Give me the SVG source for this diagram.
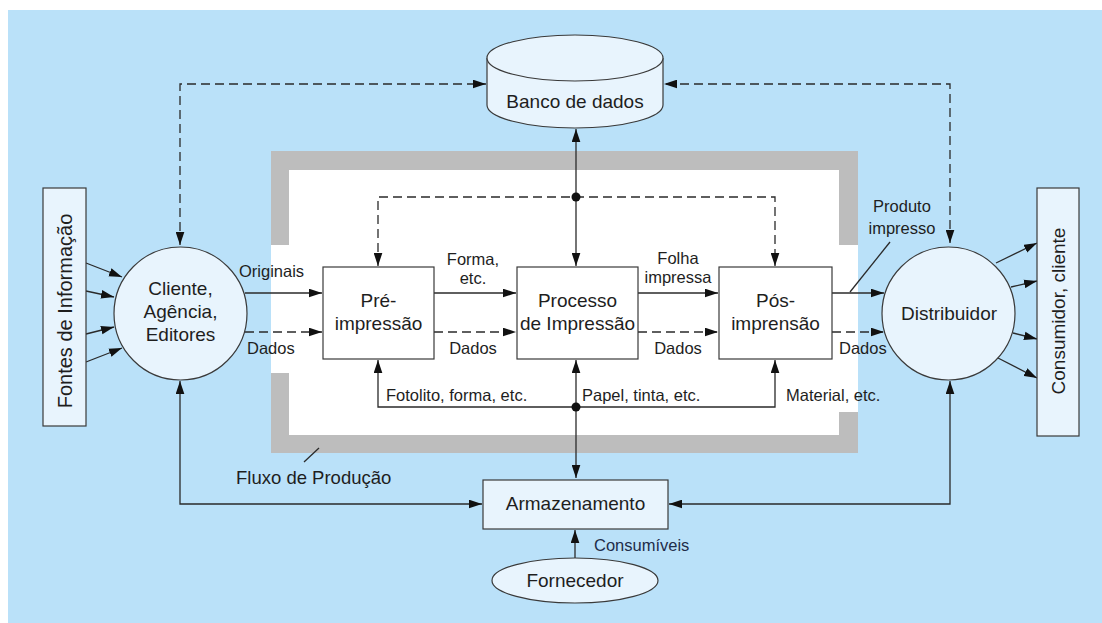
<svg xmlns="http://www.w3.org/2000/svg" width="1102" height="623" viewBox="0 0 1102 623">
<style>
text{font-family:"Liberation Sans",Arial,sans-serif;fill:#1e1e1e}
.node{fill:#e8f4fd;stroke:#3a3a3a;stroke-width:1.2}
.box{fill:#ffffff;stroke:#3a3a3a;stroke-width:1.2}
.t{font-size:19px;text-anchor:middle}
.l{font-size:16.5px}
.lc{font-size:16.5px;text-anchor:middle}
.c{fill:none;stroke:#2a2a2a;stroke-width:1.3}
.d{stroke-dasharray:9,5}
.a{marker-end:url(#ah)}
.b{marker-start:url(#ah);marker-end:url(#ah)}
</style>
<defs>
<marker id="ah" viewBox="0 0 12 8" refX="12" refY="4" markerWidth="13" markerHeight="9" orient="auto-start-reverse" markerUnits="userSpaceOnUse"><path d="M0,0 L12,4 L0,8 z" fill="#111"/></marker>
</defs>
<rect x="8" y="10" width="1094" height="613" fill="#bae1f9"/>
<g id="frame">
<rect x="271" y="151" width="587" height="302" fill="#bdbdbd"/>
<rect x="289" y="170" width="550" height="265" fill="#ffffff"/>
<rect x="271" y="245" width="20" height="128" fill="#ffffff"/>
<rect x="837" y="245" width="21" height="167" fill="#ffffff"/>
</g>
<g id="connectors">
<path class="c d b" d="M180,245 V84 H486"/>
<path class="c d b" d="M950,243 V84 H664"/>
<path class="c b" d="M576,129 V266"/>
<path class="c d b" d="M378,266 V197 H775 V266"/>
<path class="c b" d="M576,360 V478"/>
<path class="c b" d="M378,360 V407 H775 V360"/>
<path class="c a" d="M245,293 H322"/>
<path class="c d a" d="M245,332 H322"/>
<path class="c a" d="M434,293 H516"/>
<path class="c d a" d="M434,332 H516"/>
<path class="c a" d="M638,293 H718"/>
<path class="c d a" d="M638,332 H718"/>
<path class="c a" d="M832,293 H884"/>
<path class="c d a" d="M832,332 H884"/>
<path class="c" d="M850,292 L890,242"/>
<path class="c" d="M304,462 L319,448"/>
<path class="c b" d="M180,381 V504 H482"/>
<path class="c b" d="M950,381 V504 H669"/>
<path class="c a" d="M575,558 V530"/>
<path class="c a" d="M86,263 L122,277"/>
<path class="c a" d="M86,291 L114,297"/>
<path class="c a" d="M86,334 L114,327"/>
<path class="c a" d="M86,362 L122,348"/>
<path class="c a" d="M996,263 L1037,243"/>
<path class="c a" d="M1011,287 L1037,281"/>
<path class="c a" d="M1013,333 L1037,339"/>
<path class="c a" d="M998,358 L1037,378"/>
<circle cx="576" cy="197" r="4.5" fill="#111"/>
<circle cx="576" cy="407" r="4.5" fill="#111"/>
</g>
<g id="banco">
<path class="node" d="M487,58 V105 A88,23 0 0 0 663,105 V58"/>
<ellipse class="node" cx="575" cy="58" rx="88" ry="23"/>
<text class="t" x="575" y="108">Banco de dados</text>
</g>
<g id="fontes">
<rect class="node" x="43" y="188" width="43" height="238"/>
<text class="t" transform="translate(71.5,311) rotate(-90)" style="font-size:20px">Fontes de Informação</text>
</g>
<g id="cliente">
<circle class="node" cx="180.5" cy="313.5" r="66.5"/>
<text class="t" x="180.5" y="295">Cliente,</text>
<text class="t" x="180.5" y="318">Agência,</text>
<text class="t" x="180.5" y="341">Editores</text>
</g>
<g id="pre">
<rect class="box" x="323" y="267" width="111" height="92"/>
<text class="t" x="378.5" y="307">Pré-</text>
<text class="t" x="378.5" y="330">impressão</text>
</g>
<g id="processo">
<rect class="box" x="517" y="267" width="121" height="92"/>
<text class="t" x="577.5" y="307">Processo</text>
<text class="t" x="577.5" y="330">de Impressão</text>
</g>
<g id="pos">
<rect class="box" x="719" y="267" width="113" height="92"/>
<text class="t" x="775.5" y="307">Pós-</text>
<text class="t" x="775.5" y="330">imprensão</text>
</g>
<g id="distribuidor">
<circle class="node" cx="948.5" cy="313.5" r="66.5"/>
<text class="t" x="949" y="320">Distribuidor</text>
</g>
<g id="consumidor">
<rect class="node" x="1037" y="188" width="42" height="248"/>
<text class="t" transform="translate(1064.5,311) rotate(-90)">Consumidor, cliente</text>
</g>
<g id="armazenamento">
<rect class="node" x="483" y="480" width="185" height="49"/>
<text class="t" x="575.5" y="510">Armazenamento</text>
</g>
<g id="fornecedor">
<ellipse class="node" cx="575" cy="580.5" rx="83" ry="22.5"/>
<text class="t" x="575" y="587">Fornecedor</text>
</g>
<g id="labels">
<text class="l" x="239" y="277">Originais</text>
<text class="l" x="247" y="354">Dados</text>
<text class="lc" x="473" y="265">Forma,</text>
<text class="lc" x="473" y="284">etc.</text>
<text class="lc" x="473" y="354">Dados</text>
<text class="lc" x="678" y="264">Folha</text>
<text class="lc" x="678" y="283">impressa</text>
<text class="lc" x="678" y="354">Dados</text>
<text class="l" x="839" y="354">Dados</text>
<text class="lc" x="902" y="212">Produto</text>
<text class="lc" x="902" y="234">impresso</text>
<text class="l" x="386" y="401">Fotolito, forma, etc.</text>
<text class="l" x="582" y="401">Papel, tinta, etc.</text>
<text class="l" x="786" y="401">Material, etc.</text>
<text x="236" y="484" style="font-size:18.5px">Fluxo de Produção</text>
<text class="l" x="594" y="551" style="fill:#1f2d4a">Consumíveis</text>
</g>
</svg>
